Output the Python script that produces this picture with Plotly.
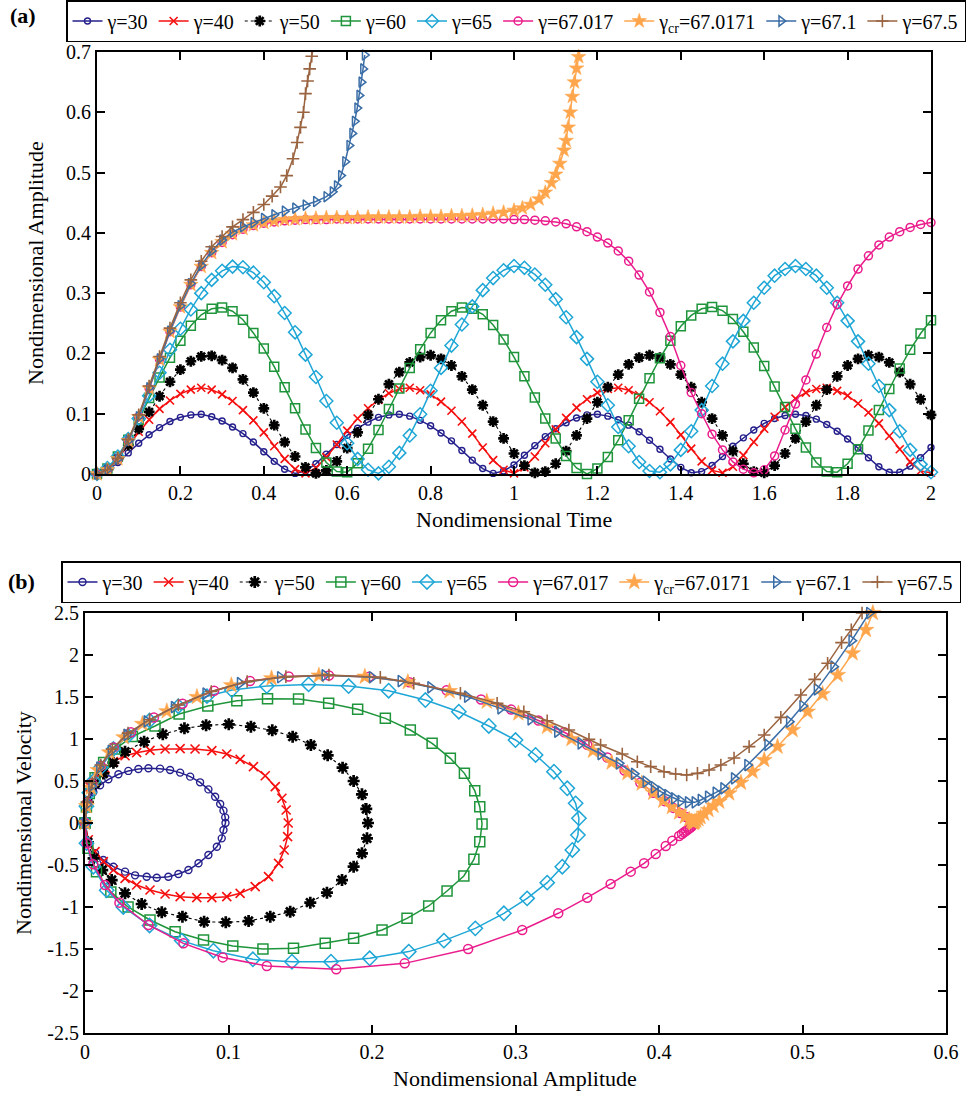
import plotly.graph_objects as go

FONT = "Liberation Serif"

# ---------------- (a) amplitude vs time ----------------
time_grid = [0, 0.025, 0.05, 0.075, 0.1, 0.125, 0.15, 0.175, 0.2, 0.225, 0.25, 0.275, 0.3, 0.325, 0.35,
             0.375, 0.4, 0.425, 0.45, 0.475, 0.5, 0.525, 0.55, 0.575, 0.6, 0.625, 0.65, 0.675, 0.7, 0.725,
             0.75, 0.775, 0.8, 0.825, 0.85, 0.875, 0.9, 0.925, 0.95, 0.975, 1.0, 1.025, 1.05, 1.075, 1.1,
             1.125, 1.15, 1.175, 1.2, 1.225, 1.25, 1.275, 1.3, 1.325, 1.35, 1.375, 1.4, 1.425, 1.45, 1.475,
             1.5, 1.525, 1.55, 1.575, 1.6, 1.625, 1.65, 1.675, 1.7, 1.725, 1.75, 1.775, 1.8, 1.825, 1.85,
             1.875, 1.9, 1.925, 1.95, 1.975, 2.0]

amp_g30 = [0, 0.006, 0.019, 0.035, 0.051, 0.065, 0.077, 0.087, 0.094, 0.098, 0.099, 0.095, 0.088, 0.078, 0.067, 0.053, 0.037, 0.021, 0.008, 0.001,
           0.005, 0.017, 0.033, 0.049, 0.064, 0.076, 0.086, 0.094, 0.098, 0.099, 0.096, 0.089, 0.080, 0.068, 0.055, 0.039, 0.023, 0.009, 0.001,
           0.005, 0.015, 0.031, 0.047, 0.062, 0.075, 0.085, 0.093, 0.098, 0.099, 0.096, 0.090, 0.081, 0.070, 0.056, 0.041, 0.025, 0.011, 0.002,
           0.004, 0.014, 0.029, 0.046, 0.060, 0.073, 0.084, 0.092, 0.097, 0.099, 0.097, 0.091, 0.082, 0.071, 0.058, 0.043, 0.027, 0.012, 0.003,
           0.003, 0.013, 0.027, 0.044]
amp_g40 = [0, 0.009, 0.026, 0.048, 0.070, 0.090, 0.108, 0.122, 0.133, 0.140, 0.143, 0.140, 0.132, 0.121, 0.106, 0.089, 0.069, 0.046, 0.025, 0.008,
           0.001, 0.010, 0.028, 0.049, 0.072, 0.092, 0.109, 0.123, 0.134, 0.141, 0.143, 0.139, 0.132, 0.120, 0.105, 0.087, 0.067, 0.044, 0.023,
           0.007, 0.001, 0.011, 0.029, 0.051, 0.074, 0.093, 0.110, 0.124, 0.135, 0.141, 0.143, 0.139, 0.131, 0.119, 0.104, 0.086, 0.065, 0.042,
           0.021, 0.006, 0.002, 0.012, 0.031, 0.053, 0.075, 0.095, 0.111, 0.125, 0.135, 0.141, 0.143, 0.138, 0.130, 0.117, 0.102, 0.084, 0.063,
           0.041, 0.020, 0.005, 0.002]
amp_g50 = [0, 0.008, 0.025, 0.048, 0.075, 0.103, 0.129, 0.153, 0.173, 0.187, 0.195, 0.196, 0.189, 0.176, 0.157, 0.135, 0.109, 0.081, 0.053, 0.029,
           0.011, 0.001, 0.006, 0.021, 0.043, 0.069, 0.098, 0.124, 0.149, 0.169, 0.185, 0.194, 0.197, 0.191, 0.180, 0.162, 0.140, 0.114, 0.087,
           0.059, 0.034, 0.014, 0.002, 0.004, 0.017, 0.038, 0.064, 0.092, 0.119, 0.144, 0.165, 0.182, 0.193, 0.197, 0.193, 0.182, 0.165, 0.144,
           0.119, 0.092, 0.064, 0.038, 0.017, 0.004, 0.002, 0.014, 0.034, 0.059, 0.087, 0.114, 0.140, 0.162, 0.180, 0.191, 0.197, 0.194, 0.185,
           0.169, 0.149, 0.124, 0.098]
amp_g60 = [0, 0.009, 0.029, 0.057, 0.090, 0.126, 0.160, 0.193, 0.221, 0.246, 0.264, 0.274, 0.276, 0.270, 0.256, 0.234, 0.208, 0.178, 0.144, 0.109,
           0.074, 0.043, 0.019, 0.004, 0.003, 0.018, 0.042, 0.073, 0.108, 0.142, 0.176, 0.207, 0.234, 0.255, 0.270, 0.276, 0.274, 0.265, 0.247,
           0.223, 0.194, 0.162, 0.127, 0.092, 0.059, 0.030, 0.010, 0.000, 0.009, 0.028, 0.056, 0.089, 0.125, 0.159, 0.192, 0.221, 0.245, 0.263,
           0.274, 0.277, 0.271, 0.257, 0.236, 0.210, 0.179, 0.145, 0.111, 0.075, 0.044, 0.019, 0.004, 0.003, 0.017, 0.041, 0.072, 0.106, 0.141,
           0.175, 0.206, 0.233, 0.255]
amp_g65 = [0, 0.010, 0.029, 0.058, 0.092, 0.130, 0.168, 0.206, 0.241, 0.273, 0.300, 0.322, 0.337, 0.344, 0.343, 0.334, 0.318, 0.295, 0.267, 0.235,
           0.198, 0.161, 0.121, 0.085, 0.051, 0.025, 0.007, 0.001, 0.012, 0.035, 0.064, 0.099, 0.138, 0.176, 0.213, 0.248, 0.278, 0.305, 0.325,
           0.338, 0.345, 0.342, 0.331, 0.314, 0.290, 0.260, 0.227, 0.191, 0.153, 0.114, 0.078, 0.046, 0.020, 0.005, 0.003, 0.016, 0.040, 0.071,
           0.106, 0.146, 0.183, 0.220, 0.254, 0.284, 0.309, 0.329, 0.340, 0.345, 0.340, 0.329, 0.309, 0.284, 0.254, 0.220, 0.183, 0.146, 0.106,
           0.071, 0.040, 0.016, 0.003]
amp_g67017 = [0, 0.007, 0.025, 0.055, 0.095, 0.142, 0.190, 0.236, 0.277, 0.314, 0.344, 0.367, 0.384, 0.397, 0.406, 0.412, 0.416, 0.418, 0.420, 0.421,
              0.422, 0.422, 0.422, 0.423, 0.423, 0.423, 0.423, 0.423, 0.423, 0.423, 0.423, 0.423, 0.423, 0.423, 0.423, 0.423, 0.423, 0.423, 0.423,
              0.423, 0.422, 0.422, 0.421, 0.420, 0.418, 0.415, 0.410, 0.402, 0.393, 0.383, 0.370, 0.353, 0.330, 0.302, 0.268, 0.228, 0.180, 0.135,
              0.100, 0.066, 0.040, 0.020, 0.008, 0.002, 0.007, 0.030, 0.073, 0.116, 0.156, 0.199, 0.243, 0.281, 0.312, 0.340, 0.362, 0.380, 0.393,
              0.402, 0.409, 0.414, 0.417]

time_cr = time_grid[:41] + [1.02, 1.04, 1.06, 1.075, 1.09, 1.1, 1.11, 1.12, 1.125, 1.13, 1.135, 1.14, 1.145, 1.15, 1.155, 1.16]
amp_gcr = [0, 0.007, 0.025, 0.055, 0.095, 0.142, 0.190, 0.236, 0.277, 0.314, 0.344, 0.367, 0.385, 0.398, 0.407, 0.413, 0.417, 0.420, 0.422, 0.423,
           0.424, 0.424, 0.425, 0.425, 0.425, 0.425, 0.426, 0.426, 0.426, 0.426, 0.426, 0.427, 0.427, 0.427, 0.428, 0.428, 0.429, 0.430, 0.432, 0.434, 0.437,
           0.441, 0.447, 0.456, 0.467, 0.483, 0.497, 0.515, 0.537, 0.553, 0.575, 0.600, 0.626, 0.650, 0.673, 0.692, 0.712]

time_g671 = time_grid[:23] + [0.565, 0.575, 0.585, 0.595, 0.605, 0.612, 0.618, 0.624, 0.629, 0.634, 0.638, 0.642]
amp_g671 = [0, 0.007, 0.025, 0.055, 0.095, 0.143, 0.191, 0.237, 0.279, 0.316, 0.346, 0.370, 0.388, 0.401, 0.410,
            0.417, 0.424, 0.430, 0.436, 0.441, 0.446, 0.452, 0.460,
            0.468, 0.478, 0.495, 0.518, 0.545, 0.565, 0.585, 0.607, 0.628, 0.650, 0.672, 0.695]

time_g675 = time_grid[:13] + [0.325, 0.35, 0.375, 0.4, 0.42, 0.44, 0.455, 0.47, 0.48, 0.488, 0.495, 0.5, 0.505, 0.51, 0.515, 0.518]
amp_g675 = [0, 0.007, 0.026, 0.057, 0.098, 0.146, 0.195, 0.242, 0.284, 0.322, 0.353, 0.377, 0.394,
            0.410, 0.422, 0.434, 0.447, 0.461, 0.476, 0.495, 0.523, 0.550, 0.575, 0.600, 0.631, 0.652, 0.672, 0.693, 0.705]

# ---------------- (b) velocity vs amplitude ----------------
pa_g30 = [0, 0.0023, 0.0058, 0.0105, 0.0163, 0.0233, 0.0302, 0.0372, 0.0442, 0.0523, 0.0593, 0.0663, 0.0733, 0.0802, 0.0860, 0.0907,
          0.0942, 0.0965, 0.0977, 0.0979, 0.0965, 0.0953, 0.0919, 0.0860, 0.0791, 0.0721, 0.0651, 0.0581, 0.0500, 0.0430, 0.0349, 0.0279,
          0.0198, 0.0128, 0.0070, 0.0025, 0]
pv_g30 = [0, 0.27, 0.37, 0.45, 0.52, 0.58, 0.62, 0.643, 0.651, 0.647, 0.631, 0.600, 0.552, 0.484, 0.400, 0.313, 0.226, 0.147, 0.067, 0.0,
          -0.083, -0.183, -0.282, -0.381, -0.480, -0.560, -0.607, -0.639, -0.651, -0.639, -0.623, -0.579, -0.520, -0.440, -0.361, -0.240, 0]

pa_g40 = [0, 0.0035, 0.0081, 0.0140, 0.0198, 0.0279, 0.0360, 0.0453, 0.0558, 0.0663, 0.0767, 0.0884, 0.0988, 0.1081, 0.1174, 0.1256,
          0.1326, 0.1372, 0.1402, 0.1416, 0.1412, 0.1388, 0.1349, 0.1279, 0.1186, 0.1081, 0.0988, 0.0884, 0.0779, 0.0663, 0.0558, 0.0453,
          0.0360, 0.0279, 0.0198, 0.0128, 0.0070, 0.0023, 0]
pv_g40 = [0, 0.43, 0.55, 0.65, 0.73, 0.80, 0.837, 0.865, 0.881, 0.885, 0.881, 0.861, 0.821, 0.758, 0.671, 0.563, 0.433, 0.294, 0.155, 0.0,
          -0.163, -0.321, -0.480, -0.639, -0.758, -0.837, -0.877, -0.889, -0.889, -0.877, -0.845, -0.798, -0.738, -0.659, -0.560, -0.460,
          -0.341, -0.200, 0]

pa_g50 = [0, 0.0020, 0.0070, 0.0128, 0.0198, 0.0279, 0.0412, 0.0542, 0.0693, 0.0844, 0.1002, 0.1156, 0.1305, 0.1447, 0.1574, 0.1691,
          0.1795, 0.1872, 0.1930, 0.1960, 0.1972, 0.1965, 0.1930, 0.1872, 0.1791, 0.1686, 0.1570, 0.1430, 0.1291, 0.1140, 0.0981, 0.0830,
          0.0679, 0.0535, 0.0395, 0.0279, 0.0186, 0.0120, 0.0060, 0.0020, 0]
pv_g50 = [0, 0.25, 0.47, 0.59, 0.718, 0.849, 0.968, 1.056, 1.127, 1.163, 1.175, 1.147, 1.103, 1.028, 0.929, 0.806, 0.659, 0.500, 0.341,
          0.167, 0.0, -0.183, -0.361, -0.520, -0.679, -0.829, -0.948, -1.056, -1.115, -1.167, -1.183, -1.175, -1.115, -1.063, -0.964,
          -0.837, -0.679, -0.560, -0.420, -0.230, 0]

pa_g60 = [0, 0.0010, 0.0030, 0.0070, 0.0130, 0.0210, 0.0330, 0.0488, 0.0656, 0.0856, 0.1058, 0.1272, 0.1488, 0.1698, 0.1900, 0.2093,
          0.2267, 0.2419, 0.2546, 0.2644, 0.2716, 0.2751, 0.2767, 0.2751, 0.2710, 0.2640, 0.2523, 0.2395, 0.2244, 0.2070, 0.1872, 0.1674,
          0.1453, 0.1240, 0.1030, 0.0826, 0.0628, 0.0453, 0.0300, 0.0180, 0.0080, 0.0020, 0]
pv_g60 = [0, 0.19, 0.35, 0.54, 0.72, 0.88, 1.03, 1.155, 1.298, 1.393, 1.456, 1.480, 1.476, 1.425, 1.353, 1.246, 1.107, 0.948, 0.770,
          0.591, 0.385, 0.194, -0.012, -0.222, -0.433, -0.631, -0.810, -0.988, -1.135, -1.274, -1.373, -1.433, -1.492, -1.500, -1.464,
          -1.393, -1.294, -1.155, -1.000, -0.820, -0.580, -0.300, 0]

pa_g65 = [0, 0.0010, 0.0030, 0.0058, 0.0110, 0.0198, 0.0300, 0.0450, 0.0650, 0.0850, 0.1023, 0.1267, 0.1558, 0.1837, 0.2116, 0.2372,
          0.2605, 0.2814, 0.3000, 0.3140, 0.3268, 0.3361, 0.3419, 0.3442, 0.3435, 0.3396, 0.3326, 0.3221, 0.3081, 0.2919, 0.2720, 0.2501,
          0.2256, 0.1984, 0.1714, 0.1442, 0.1170, 0.0895, 0.0674, 0.0450, 0.0267, 0.0151, 0.0058, 0.0010, 0]
pv_g65 = [0, 0.20, 0.36, 0.50, 0.66, 0.88, 1.04, 1.22, 1.39, 1.51, 1.583, 1.630, 1.650, 1.630, 1.575, 1.464, 1.325, 1.155, 0.988, 0.810,
          0.611, 0.413, 0.234, 0.056, -0.143, -0.321, -0.520, -0.710, -0.897, -1.075, -1.254, -1.400, -1.531, -1.611, -1.651, -1.651,
          -1.623, -1.520, -1.400, -1.220, -1.000, -0.800, -0.520, -0.240, 0]

pa_g67017 = [0, 0.0015, 0.005, 0.011, 0.020, 0.032, 0.048, 0.068, 0.090, 0.115, 0.142, 0.170, 0.198, 0.226, 0.252, 0.276, 0.297, 0.316,
             0.334, 0.350, 0.364, 0.376, 0.387, 0.396, 0.404, 0.410, 0.415, 0.419, 0.4215, 0.423, 0.4238, 0.4237, 0.4226, 0.4215, 0.4203,
             0.419, 0.4175, 0.416, 0.414, 0.4093, 0.4047, 0.3977, 0.3896, 0.3803, 0.3663, 0.350, 0.3298, 0.3047, 0.267, 0.2228, 0.1751,
             0.1267, 0.096, 0.0686, 0.0442, 0.024, 0.014, 0.0058, 0.0012, 0]
pv_g67017 = [0, 0.24, 0.47, 0.68, 0.90, 1.08, 1.255, 1.42, 1.575, 1.69, 1.745, 1.755, 1.74, 1.675, 1.58, 1.47, 1.35, 1.22, 1.08, 0.93,
             0.78, 0.625, 0.48, 0.36, 0.26, 0.18, 0.118, 0.07, 0.038, 0.015, 0.0, -0.02, -0.044, -0.06, -0.075, -0.092, -0.111, -0.13,
             -0.155, -0.21, -0.274, -0.369, -0.48, -0.579, -0.726, -0.889, -1.075, -1.274, -1.5, -1.671, -1.742, -1.702, -1.6, -1.433,
             -1.214, -0.948, -0.738, -0.492, -0.242, 0]

pa_gcr = [0, 0.001, 0.004, 0.009, 0.017, 0.027, 0.040, 0.057, 0.078, 0.102, 0.130, 0.163, 0.195, 0.225, 0.254, 0.280, 0.302, 0.322,
          0.339, 0.354, 0.367, 0.378, 0.388, 0.396, 0.403, 0.409, 0.414, 0.418, 0.421, 0.4225, 0.4235, 0.424, 0.4245, 0.425, 0.426,
          0.4275, 0.429, 0.4315, 0.4345, 0.438, 0.442, 0.4489, 0.4571, 0.4652, 0.4733, 0.4826, 0.4931, 0.5035, 0.514, 0.5245, 0.5349,
          0.5442, 0.549]
pv_gcr = [0, 0.20, 0.42, 0.63, 0.84, 1.02, 1.18, 1.33, 1.50, 1.64, 1.722, 1.755, 1.742, 1.678, 1.57, 1.445, 1.305, 1.145, 1.0, 0.86,
          0.72, 0.595, 0.47, 0.36, 0.265, 0.19, 0.125, 0.075, 0.04, 0.02, 0.008, 0.003, 0.006, 0.015, 0.027, 0.045, 0.07, 0.11, 0.155,
          0.205, 0.254, 0.353, 0.48, 0.611, 0.75, 0.909, 1.107, 1.325, 1.536, 1.762, 2.02, 2.298, 2.5]

pa_g671 = [0, 0.0012, 0.0045, 0.010, 0.018, 0.029, 0.043, 0.062, 0.084, 0.108, 0.136, 0.167, 0.200, 0.220, 0.2407, 0.2663, 0.2895,
           0.3105, 0.3291, 0.3454, 0.3593, 0.3721, 0.3826, 0.3907, 0.3965, 0.4012, 0.4058, 0.4105, 0.4151, 0.4202, 0.4249, 0.4291,
           0.4342, 0.4395, 0.4449, 0.4523, 0.4616, 0.4756, 0.4907, 0.500, 0.510, 0.5216, 0.5342, 0.5465]
pv_g671 = [0, 0.22, 0.44, 0.66, 0.86, 1.05, 1.21, 1.38, 1.54, 1.665, 1.735, 1.758, 1.735, 1.69, 1.615, 1.504, 1.365, 1.234, 1.087,
           0.948, 0.821, 0.71, 0.585, 0.492, 0.425, 0.373, 0.333, 0.294, 0.262, 0.246, 0.246, 0.274, 0.313, 0.361, 0.413, 0.532, 0.69,
           0.93, 1.206, 1.393, 1.591, 1.861, 2.171, 2.5]

pa_g675 = [0, 0.0015, 0.005, 0.011, 0.019, 0.030, 0.045, 0.065, 0.088, 0.113, 0.140, 0.170, 0.2058, 0.2291, 0.2616, 0.2872, 0.3058,
           0.3221, 0.3372, 0.3512, 0.3593, 0.3744, 0.3849, 0.3942, 0.4035, 0.4116, 0.4193, 0.4268, 0.4349, 0.4431, 0.4523, 0.4628,
           0.4733, 0.4849, 0.4988, 0.5085, 0.5175, 0.5272, 0.534, 0.5415]
pv_g675 = [0, 0.25, 0.48, 0.69, 0.88, 1.07, 1.23, 1.405, 1.565, 1.685, 1.742, 1.762, 1.734, 1.663, 1.544, 1.425, 1.325, 1.218, 1.107,
           0.996, 0.929, 0.821, 0.73, 0.671, 0.611, 0.583, 0.571, 0.591, 0.631, 0.69, 0.774, 0.909, 1.048, 1.258, 1.524, 1.71, 1.901,
           2.147, 2.3, 2.5]

series_names = ["γ=30", "γ=40", "γ=50", "γ=60", "γ=65", "γ=67.017", "γ<sub>cr</sub>=67.0171", "γ=67.1", "γ=67.5"]

time_data = [(time_grid, amp_g30), (time_grid, amp_g40), (time_grid, amp_g50), (time_grid, amp_g60),
             (time_grid, amp_g65), (time_grid, amp_g67017), (time_cr, amp_gcr), (time_g671, amp_g671),
             (time_g675, amp_g675)]
phase_data = [(pa_g30, pv_g30), (pa_g40, pv_g40), (pa_g50, pv_g50), (pa_g60, pv_g60), (pa_g65, pv_g65),
              (pa_g67017, pv_g67017), (pa_gcr, pv_gcr), (pa_g671, pv_g671), (pa_g675, pv_g675)]

# styles: color, symbol, size(a), size(b), dash, marker line width
styles = [
    ("#25208c", "circle-open", 6, 7, "solid", 1.4),
    ("#f50f0f", "x-thin-open", 8, 9, "solid", 1.6),
    ("#000000", "asterisk-open", 9, 10, "dot", 2.7),
    ("#1f953b", "square-open", 9, 10, "solid", 1.5),
    ("#1ea6d6", "diamond-open", 10, 11, "solid", 1.5),
    ("#ea1c8c", "circle-open", 8, 9, "solid", 1.5),
    ("#ffa64d", "star", 11, 12, "solid", 0.6),
    ("#3a6da6", "triangle-right-open", 9, 10, "solid", 1.5),
    ("#9a6440", "cross-thin-open", 9, 9, "solid", 1.6),
]

fig = go.Figure()

for name, (tx, ty), st in zip(series_names, time_data, styles):
    color, sym, sa, sb, dash, mlw = st
    fig.add_trace(go.Scatter(
        x=tx, y=ty, mode="lines+markers", name=name,
        line=dict(color=color, width=1.1 if dash == "dot" else 1.5, dash=dash),
        marker=dict(symbol=sym, size=sa, color=color, line=dict(color=color, width=mlw)),
        cliponaxis=False, xaxis="x", yaxis="y", legend="legend"))

for name, (pa, pv), st in zip(series_names, phase_data, styles):
    color, sym, sa, sb, dash, mlw = st
    fig.add_trace(go.Scatter(
        x=pa, y=pv, mode="lines+markers", name=name,
        line=dict(color=color, width=1.1 if dash == "dot" else 1.5, dash=dash),
        marker=dict(symbol=sym, size=sb, color=color, line=dict(color=color, width=mlw)),
        cliponaxis=False, xaxis="x2", yaxis="y2", legend="legend2"))

W, H = 972, 1098

def px_x(p):
    return p / W

def px_y(p):
    return 1 - p / H

tick_font = dict(family=FONT, size=20, color="black")
axis_common = dict(showline=True, linewidth=2, linecolor="black", mirror="ticks", ticks="inside",
                   ticklen=8, tickwidth=1.5, tickcolor="black", showgrid=False, zeroline=False,
                   tickfont=tick_font, automargin=False)

xa_ticks = [0, 0.2, 0.4, 0.6, 0.8, 1, 1.2, 1.4, 1.6, 1.8, 2]
ya_ticks = [0, 0.1, 0.2, 0.3, 0.4, 0.5, 0.6, 0.7]
xb_ticks = [0, 0.1, 0.2, 0.3, 0.4, 0.5, 0.6]
yb_ticks = [-2.5, -2, -1.5, -1, -0.5, 0, 0.5, 1, 1.5, 2, 2.5]

def lbl(v):
    return "%g" % v

legend_common = dict(orientation="h", xanchor="left", yanchor="top", bordercolor="black", borderwidth=1.5,
                     bgcolor="white", itemwidth=30, tracegroupgap=0,
                     font=dict(family=FONT, size=20, color="black"))

fig.update_layout(
    template="none",
    width=W, height=H, margin=dict(l=0, r=0, t=0, b=0, pad=0, autoexpand=False), autosize=False,
    paper_bgcolor="white", plot_bgcolor="white",
    font=dict(family=FONT, color="black"),
    xaxis=dict(domain=[px_x(97), px_x(931)], range=[0, 2], anchor="y",
               tickvals=xa_ticks, ticktext=[lbl(v) for v in xa_ticks], **axis_common),
    yaxis=dict(domain=[px_y(474), px_y(52)], range=[0, 0.7], anchor="x",
               tickvals=ya_ticks, ticktext=[lbl(v) for v in ya_ticks], **axis_common),
    xaxis2=dict(domain=[px_x(85), px_x(946)], range=[0, 0.6], anchor="y2",
                tickvals=xb_ticks, ticktext=[lbl(v) for v in xb_ticks], **axis_common),
    yaxis2=dict(domain=[px_y(1033), px_y(613)], range=[-2.5, 2.5], anchor="x2",
                tickvals=yb_ticks, ticktext=[lbl(v) for v in yb_ticks], **axis_common),
    legend=dict(x=px_x(66), y=px_y(0), **legend_common),
    legend2=dict(x=px_x(61), y=px_y(561), **legend_common),
    showlegend=True,
)

annots = [
    dict(text="<b>(a)</b>", x=px_x(23), y=px_y(16)),
    dict(text="<b>(b)</b>", x=px_x(21), y=px_y(581)),
    dict(text="Nondimensional Time", x=px_x(514), y=px_y(519)),
    dict(text="Nondimensional Amplitude", x=px_x(36), y=px_y(263), textangle=-90),
    dict(text="Nondimensional Velocity", x=px_x(23), y=px_y(823), textangle=-90),
    dict(text="Nondimensional Amplitude", x=px_x(515), y=px_y(1078)),
]
for a in annots:
    fig.add_annotation(xref="paper", yref="paper", showarrow=False, xanchor="center", yanchor="middle",
                       font=dict(family=FONT, size=22, color="black"), **a)

fig.write_html("out.html", post_script="document.body.style.margin='0';document.body.style.padding='0';")
